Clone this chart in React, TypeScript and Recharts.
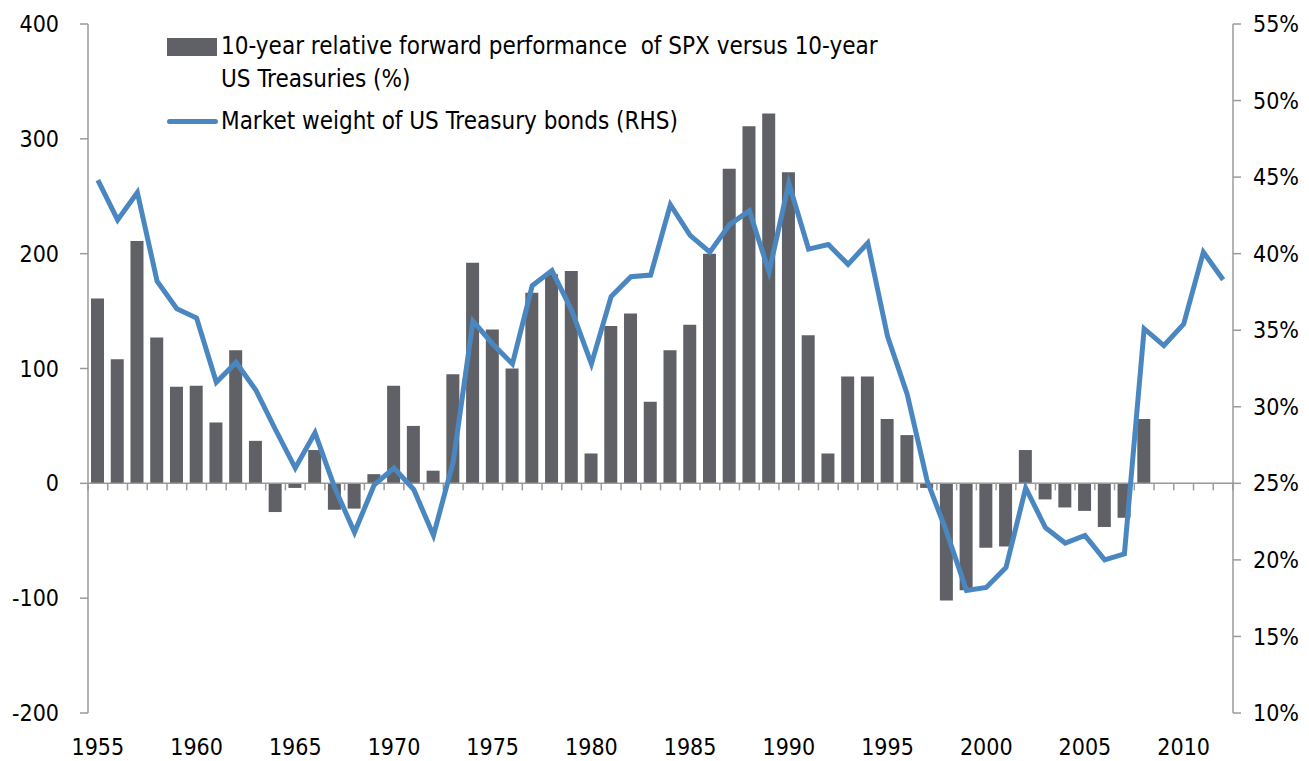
import { ComposedChart, Bar, Line, XAxis, YAxis, ReferenceLine } from "recharts";

const years = [
  "1955", "1956", "1957", "1958", "1959", "1960", "1961", "1962", "1963", "1964",
  "1965", "1966", "1967", "1968", "1969", "1970", "1971", "1972", "1973", "1974",
  "1975", "1976", "1977", "1978", "1979", "1980", "1981", "1982", "1983", "1984",
  "1985", "1986", "1987", "1988", "1989", "1990", "1991", "1992", "1993", "1994",
  "1995", "1996", "1997", "1998", "1999", "2000", "2001", "2002", "2003", "2004",
  "2005", "2006", "2007", "2008", "2009", "2010", "2011", "2012",
];

// 10-year relative forward performance of SPX vs 10y UST (%)
const relPerf = [
  161, 108, 211, 127, 84, 85, 53, 116, 37, -25,
  -4, 29, -23, -22, 8, 85, 50, 11, 95, 192,
  134, 100, 166, 182, 185, 26, 137, 148, 71, 116,
  138, 200, 274, 311, 322, 271, 129, 26, 93, 93,
  56, 42, -4, -102, -93, -56, -55, 29, -14, -21,
  -24, -38, -30, 56, null, null, null, null,
];

// market weight of US Treasury bonds (%, RHS)
const tsyWeight = [
  44.8, 42.2, 44.0, 38.2, 36.4, 35.8, 31.6, 32.9, 31.1, 28.5,
  26.0, 28.3, 24.7, 21.8, 24.9, 26.0, 24.6, 21.6, 26.4, 35.6,
  34.1, 32.8, 37.9, 38.9, 36.3, 32.8, 37.2, 38.5, 38.6, 43.2,
  41.2, 40.1, 41.9, 42.8, 38.8, 44.6, 40.3, 40.6, 39.3, 40.7,
  34.6, 30.8, 25.2, 21.8, 18.0, 18.2, 19.5, 24.7, 22.1, 21.1,
  21.6, 20.0, 20.4, 35.1, 34.0, 35.4, 40.1, 38.3,
];

const leftTicks = [-200, -100, 0, 100, 200, 300, 400];
const rightTicks = [10, 15, 20, 25, 30, 35, 40, 45, 50, 55];

const data = years.map((year, i) => ({ year, perf: relPerf[i], weight: tsyWeight[i] }));

const FONT = "'DejaVu Sans Condensed', 'Liberation Sans', sans-serif";
const BAR_COLOR = "#606166";
const LINE_COLOR = "#4a87c1";
const AXIS_COLOR = "#9a9a9a";
const TICK_FONT = 23;

// zero line with small tick marks between categories (excel style)
const ZeroAxis = (props: any) => {
  const { x1, y1, x2 } = props;
  const n = years.length;
  const step = (x2 - x1) / n;
  const marks = [];
  for (let i = 0; i <= n; i++) {
    const x = x1 + i * step;
    marks.push(<line key={i} x1={x} x2={x} y1={y1} y2={y1 + 7} stroke={AXIS_COLOR} strokeWidth={1.5} />);
  }
  return (
    <g>
      <line x1={x1} x2={x2} y1={y1} y2={y1} stroke={AXIS_COLOR} strokeWidth={1.5} />
      {marks}
    </g>
  );
};

export default function App() {
  return (
    <div style={{ position: "relative", width: 1300, height: 753, fontFamily: FONT }}>
      <ComposedChart width={1300} height={753} data={data} margin={{ top: 16, right: 0, bottom: 0, left: 0 }}>
        <XAxis
          dataKey="year"
          xAxisId="x"
          height={48}
          interval={4}
          axisLine={false}
          tickLine={false}
          tickMargin={20}
          tick={{ fontSize: TICK_FONT, fill: "#000", fontFamily: FONT }}
        />
        <YAxis
          yAxisId="left"
          width={80}
          domain={[-200, 400]}
          ticks={leftTicks}
          interval={0}
          tickSize={8}
          tickMargin={21}
          axisLine={{ stroke: AXIS_COLOR, strokeWidth: 1.5 }}
          tickLine={{ stroke: AXIS_COLOR, strokeWidth: 1.5 }}
          tick={{ fontSize: TICK_FONT, fill: "#000", fontFamily: FONT }}
        />
        <YAxis
          yAxisId="right"
          orientation="right"
          width={75}
          domain={[10, 55]}
          ticks={rightTicks}
          interval={0}
          tickSize={8}
          tickMargin={12}
          tickFormatter={(v: number) => `${v}%`}
          axisLine={{ stroke: AXIS_COLOR, strokeWidth: 1.5 }}
          tickLine={{ stroke: AXIS_COLOR, strokeWidth: 1.5 }}
          tick={{ fontSize: TICK_FONT, fill: "#000", fontFamily: FONT, textAnchor: "start" }}
        />
        <Bar dataKey="perf" xAxisId="x" yAxisId="left" fill={BAR_COLOR} barSize={13} isAnimationActive={false} />
        <ReferenceLine y={0} xAxisId="x" yAxisId="left" shape={ZeroAxis} />
        <Line
          dataKey="weight"
          xAxisId="x"
          yAxisId="right"
          type="linear"
          stroke={LINE_COLOR}
          strokeWidth={5}
          dot={false}
          isAnimationActive={false}
        />
      </ComposedChart>

      {/* legend */}
      <div style={{ position: "absolute", left: 159, top: 30, width: 50, height: 18, background: BAR_COLOR }} />
      <div style={{ position: "absolute", left: 213, top: 22, fontSize: 24, lineHeight: "33px", color: "#000", whiteSpace: "nowrap" }}>
        10-year relative forward performance&nbsp; of SPX versus 10-year
        <br />
        US Treasuries (%)
      </div>
      <div style={{ position: "absolute", left: 159, top: 111, width: 51, height: 5, borderRadius: 3, background: LINE_COLOR }} />
      <div style={{ position: "absolute", left: 213, top: 97, fontSize: 24, lineHeight: "33px", color: "#000", whiteSpace: "nowrap" }}>
        Market weight of US Treasury bonds (RHS)
      </div>
    </div>
  );
}
